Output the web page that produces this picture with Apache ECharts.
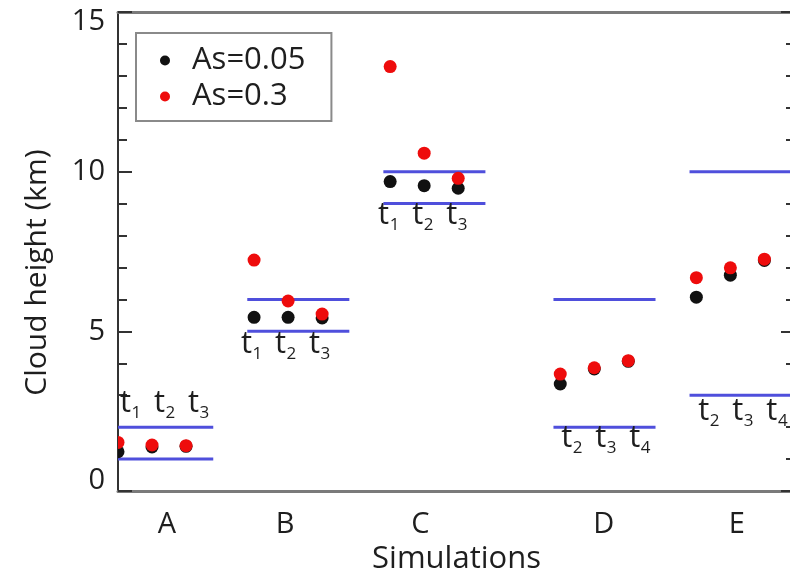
<!DOCTYPE html>
<html>
<head>
<meta charset="utf-8">
<script src="https://cdn.jsdelivr.net/npm/echarts@6/dist/echarts.min.js"></script>
<style>
  html, body { margin: 0; padding: 0; background: #fff; }
  #chart { width: 790px; height: 576px; }
</style>
</head>
<body>
<div id="chart"></div>
<script>
// Simulation groups
const simulations = ['A', 'B', 'C', 'D', 'E'];
// Output time index of each point (t1..t4)
const timeSteps = [[1, 2, 3], [1, 2, 3], [1, 2, 3], [2, 3, 4], [2, 3, 4]];
// Cloud height (km) for surface albedo As = 0.05
const heightAs005 = [[1.23, 1.38, 1.40], [5.44, 5.44, 5.42], [9.69, 9.56, 9.48], [3.35, 3.82, 4.06], [6.07, 6.76, 7.22]];
// Cloud height (km) for surface albedo As = 0.3
const heightAs03 = [[1.52, 1.44, 1.42], [7.23, 5.95, 5.54], [13.29, 10.58, 9.79], [3.66, 3.86, 4.08], [6.68, 6.99, 7.26]];
// Observed cloud height range per simulation (km)
const observedRange = [[1, 2], [5, 6], [9, 10], [2, 6], [3, 10]];
// Y axis tick values
const yTicks = [0, 5, 10, 15];

// ---- layout along the x axis (one unit = one output time step) ----
const groupStart = [0, 4, 8, 13, 17];
const groupLabelAt = [1.44, 4.91, 8.89, 14.28, 18.19];
const rangeExtent = [-0.2, 2.8];
const xMax = 19.9;
const labelAbove = [true, false, false, false, false];
const labelNudge = [12, -3, -2, 11, 12];   // px
const labelGap = [24, 13, 12, 11, 16];     // px from the range line

const FONT = '"Open Sans", "Noto Sans", sans-serif';
const TEXT = '#1e1e1e';
const BLUE = '#4f4fdc';

function pointSeries(name, values, color) {
  const data = [];
  values.forEach((row, g) => row.forEach((v, i) => data.push([groupStart[g] + i, v])));
  return {
    type: 'custom',
    name: name,
    data: data,
    clip: true,
    z: 4,
    itemStyle: { color: color },
    encode: { x: 0, y: 1 },
    renderItem: function (params, api) {
      const p = api.coord([api.value(0), api.value(1)]);
      return { type: 'circle', shape: { cx: p[0], cy: p[1], r: 6.5 }, style: { fill: color } };
    }
  };
}

const rangeData = [];
observedRange.forEach((r, g) => r.forEach(v =>
  rangeData.push([groupStart[g] + rangeExtent[0], groupStart[g] + rangeExtent[1], v])));

const stepLabelData = [];
timeSteps.forEach((row, g) => row.forEach((s, i) => {
  const y = labelAbove[g] ? observedRange[g][1] : observedRange[g][0];
  stepLabelData.push([groupStart[g] + i, y, s, g]);
}));

const chart = echarts.init(document.getElementById('chart'), null, { renderer: 'canvas' });

const yAxisBase = {
  type: 'value',
  min: yTicks[0],
  max: yTicks[yTicks.length - 1],
  interval: yTicks[1] - yTicks[0],
  splitLine: { show: false },
  axisLine: { show: true, onZero: false, lineStyle: { color: '#333', width: 2 } },
  axisTick: { show: true, inside: true, length: 14, lineStyle: { color: '#333', width: 2 } },
  minorTick: { show: true, splitNumber: 5, length: 9, lineStyle: { color: '#333', width: 2 } }
};

chart.setOption({
  animation: false,
  backgroundColor: '#fff',
  grid: { left: 118, right: -5, top: 12, bottom: 85, containLabel: false, outerBoundsMode: 'none' },
  legend: {
    orient: 'vertical',
    left: 136,
    top: 33,
    data: [{ name: 'As=0.05', icon: 'circle' }, { name: 'As=0.3', icon: 'circle' }],
    itemWidth: 44,
    itemHeight: 10,
    itemGap: 5,
    padding: [12, 26, 9, 24],
    borderColor: '#8a8a8a',
    borderWidth: 2,
    selectedMode: false,
    textStyle: { fontSize: 31, fontFamily: FONT, color: TEXT }
  },
  xAxis: [{
    type: 'value',
    min: 0,
    max: xMax,
    position: 'bottom',
    splitLine: { show: false },
    axisLine: { show: true, onZero: false, lineStyle: { color: '#7a7a7a', width: 3 } },
    axisTick: { show: false },
    axisLabel: {
      customValues: groupLabelAt,
      formatter: function (v) {
        let k = 0, best = Infinity;
        groupLabelAt.forEach((p, i) => { if (Math.abs(p - v) < best) { best = Math.abs(p - v); k = i; } });
        return simulations[k];
      },
      fontSize: 29,
      fontFamily: FONT,
      color: TEXT,
      margin: 19
    },
    name: 'Simulations',
    nameLocation: 'middle',
    nameGap: 51,
    nameTextStyle: { fontSize: 31, fontFamily: FONT, color: TEXT }
  }, {
    type: 'value',
    min: 0,
    max: xMax,
    position: 'top',
    splitLine: { show: false },
    axisLine: { show: true, onZero: false, lineStyle: { color: '#7a7a7a', width: 3 } },
    axisTick: { show: false },
    axisLabel: { show: false }
  }],
  yAxis: [Object.assign({}, yAxisBase, {
    position: 'left',
    axisLabel: {
      fontSize: 29,
      fontFamily: FONT,
      color: TEXT,
      margin: 13,
      lineHeight: 20,
      verticalAlignMinLabel: 'bottom',
      verticalAlignMaxLabel: 'top'
    },
    name: 'Cloud height (km)',
    nameLocation: 'middle',
    nameGap: 66,
    nameTextStyle: { fontSize: 30, fontFamily: FONT, color: TEXT, padding: [0, 42, 0, 0] }
  }), Object.assign({}, yAxisBase, {
    position: 'right',
    axisLabel: { show: false }
  })],
  series: [
    {
      type: 'custom',
      name: 'range',
      data: rangeData,
      clip: true,
      z: 2,
      encode: { x: [0, 1], y: 2 },
      renderItem: function (params, api) {
        const a = api.coord([api.value(0), api.value(2)]);
        const b = api.coord([api.value(1), api.value(2)]);
        return {
          type: 'line',
          shape: { x1: a[0], y1: a[1], x2: b[0], y2: b[1] },
          style: { stroke: BLUE, lineWidth: 3 }
        };
      }
    },
    pointSeries('As=0.05', heightAs005, '#111111'),
    pointSeries('As=0.3', heightAs03, '#ee0c0c'),
    {
      type: 'custom',
      name: 'steps',
      data: stepLabelData,
      clip: false,
      z: 5,
      encode: { x: 0, y: 1 },
      renderItem: function (params, api) {
        const g = api.value(3);
        const p = api.coord([api.value(0), api.value(1)]);
        const cx = p[0] + labelNudge[g];
        const cy = labelAbove[g] ? p[1] - labelGap[g] : p[1] + labelGap[g];
        return {
          type: 'group',
          children: [{
            type: 'text',
            style: { text: 't', x: cx + 1, y: cy, align: 'right', verticalAlign: 'middle', font: '31px ' + FONT, fill: TEXT }
          }, {
            type: 'text',
            style: { text: String(api.value(2)), x: cx + 1.5, y: cy + 10, align: 'left', verticalAlign: 'middle', font: '17px ' + FONT, fill: TEXT }
          }]
        };
      }
    }
  ]
});
</script>
</body>
</html>
